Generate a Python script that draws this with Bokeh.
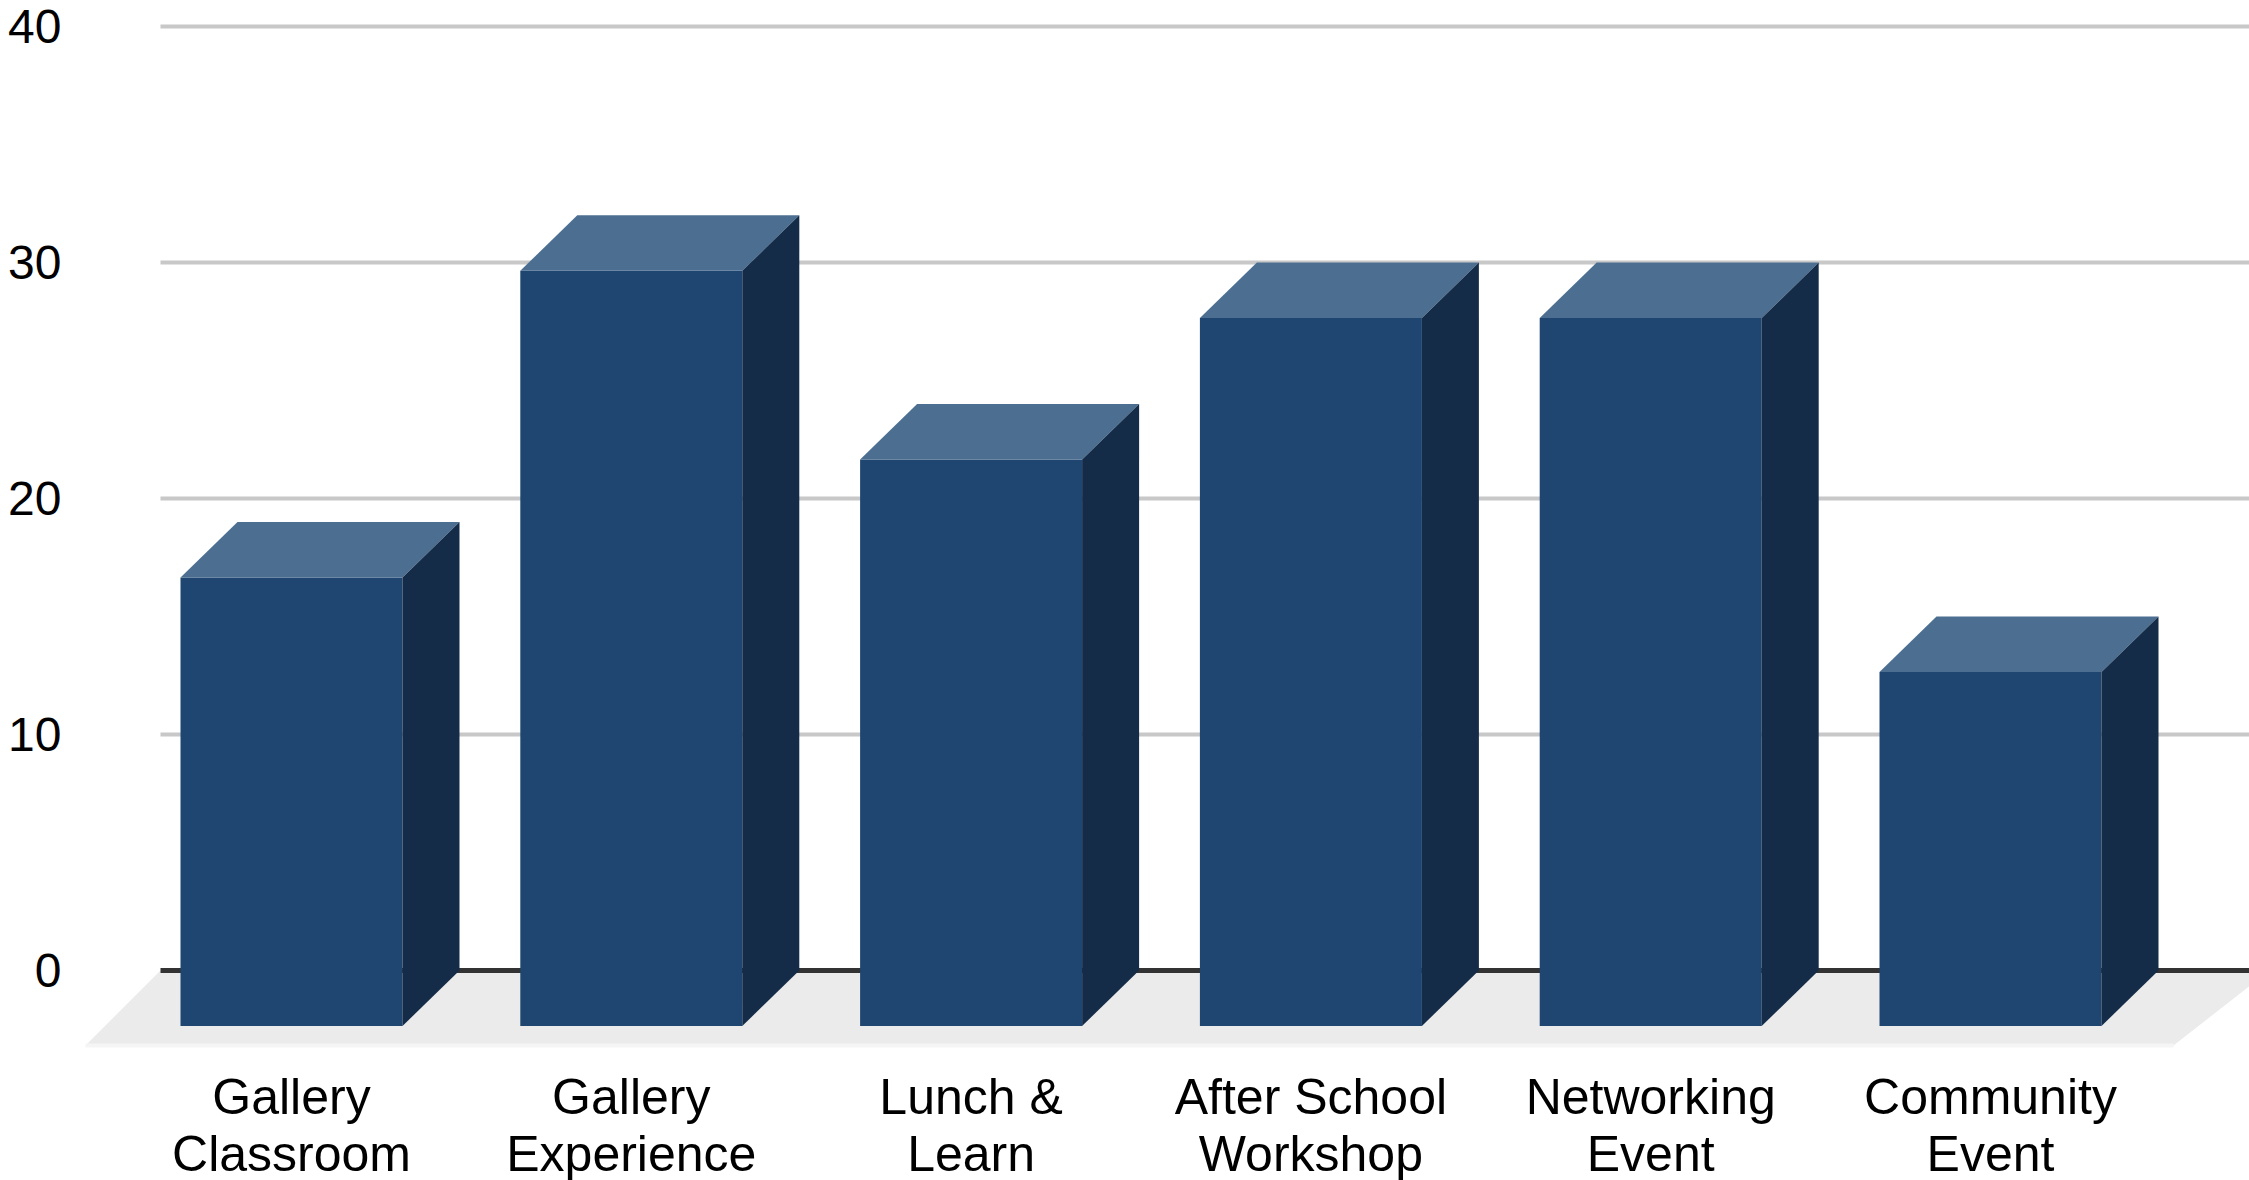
from bokeh.plotting import figure
from bokeh.models import Range1d, FixedTicker, ColumnDataSource
from bokeh.core.properties import value
from bokeh.embed import file_html
from bokeh.resources import INLINE

# ---------------- data ----------------
categories = ["Gallery\nClassroom", "Gallery\nExperience", "Lunch &\nLearn",
              "After School\nWorkshop", "Networking\nEvent", "Community\nEvent"]
values = [19, 32, 24, 30, 30, 15]
y_ticks = [0, 10, 20, 30, 40]

# ---------------- layout (pixels in reference image) ----------------
W, H = 2249, 1180
PAGE = 0
BORDER_LEFT = 78
ZERO_Y = 970.0          # reference y of value 0 on back wall
PX_PER_UNIT = 23.6
SLOT_PX = 339.8
FIRST_CENTER_X = 291.0
BAR_W_PX = 222.0
DEPTH_X_PX = 57.0
DEPTH_Y_PX = 55.5
FLOOR_BACK_LEFT = 160.0
FLOOR_FRONT_LEFT = 85.0
FLOOR_FRONT_RIGHT = 2173.0
FLOOR_DEPTH_PX = 75.0
LINE1_Y, LINE2_Y = 1096.0, 1153.0
LABEL_RIGHT = 61.0

def xd(px):
    return (px - FIRST_CENTER_X) / SLOT_PX

def yd(py):
    return (ZERO_Y - py) / PX_PER_UNIT

frame_left = PAGE + BORDER_LEFT
frame_right = PAGE + W
frame_top = PAGE
frame_bottom = PAGE + H

p = figure(width=W, height=H, output_backend="svg", toolbar_location=None,
           x_range=Range1d(xd(frame_left), xd(frame_right)),
           y_range=Range1d(yd(frame_bottom), yd(frame_top)),
           x_axis_location=None, y_axis_location="left",
           min_border_left=BORDER_LEFT, min_border_right=0,
           min_border_top=0, min_border_bottom=0)
p.outline_line_color = None
p.xgrid.visible = False
p.ygrid.visible = False
p.background_fill_color = "white"
p.border_fill_color = "white"

ax = p.yaxis[0]
ax.ticker = FixedTicker(ticks=y_ticks)
ax.axis_line_color = None
ax.major_tick_line_color = None
ax.minor_tick_line_color = None
ax.major_tick_out = 0
ax.major_tick_in = 0
ax.major_label_standoff = int(frame_left - LABEL_RIGHT)
ax.major_label_text_font = "Liberation Sans"
ax.major_label_text_font_size = "48px"
ax.major_label_text_color = "#000000"

hw = (BAR_W_PX / 2) / SLOT_PX
dx = DEPTH_X_PX / SLOT_PX
dy = DEPTH_Y_PX / PX_PER_UNIT

# floor
fdy = FLOOR_DEPTH_PX / PX_PER_UNIT
p.patch([xd(FLOOR_BACK_LEFT), xd(frame_right + 20), xd(FLOOR_FRONT_RIGHT), xd(FLOOR_FRONT_LEFT)],
        [0, 0, -fdy, -fdy], fill_color="#ebebeb", line_color=None)
p.line([xd(FLOOR_FRONT_LEFT), xd(FLOOR_FRONT_RIGHT)], [-fdy, -fdy],
       line_color="#f5f5f5", line_width=4)

# gridlines
grid_ticks = [t for t in y_ticks if t != 0]
p.segment(x0=[xd(FLOOR_BACK_LEFT)] * len(grid_ticks), y0=grid_ticks,
          x1=[xd(frame_right + 20)] * len(grid_ticks), y1=grid_ticks,
          line_color="#c8c8c8", line_width=4)
p.segment(x0=[xd(FLOOR_BACK_LEFT)], y0=[0], x1=[xd(frame_right + 20)], y1=[0],
          line_color="#333333", line_width=5)

# bars
xs = list(range(len(categories)))
front = ColumnDataSource(dict(left=[i - hw for i in xs], right=[i + hw for i in xs],
                              bottom=[-dy] * len(xs), top=[v - dy for v in values]))
p.quad(left="left", right="right", bottom="bottom", top="top", source=front,
       fill_color="#1f4670", line_color=None)

top_xs = [[i - hw, i + hw, i + hw + dx, i - hw + dx] for i in xs]
top_ys = [[v - dy, v - dy, v, v] for v in values]
p.patches(top_xs, top_ys, fill_color="#4c6f91", line_color=None)

side_xs = [[i + hw, i + hw + dx, i + hw + dx, i + hw] for i in xs]
side_ys = [[-dy, 0, v, v - dy] for v in values]
p.patches(side_xs, side_ys, fill_color="#152c49", line_color=None)

# category labels
line1 = [c.split("\n")[0] for c in categories]
line2 = [c.split("\n")[1] for c in categories]
for lines, ly in ((line1, LINE1_Y), (line2, LINE2_Y)):
    p.text(x=xs, y=[yd(ly)] * len(xs), text=lines,
           text_font=value("Liberation Sans"), text_font_size="50px",
           text_color="#000000", text_align="center", text_baseline="alphabetic")

open("out.html", "w").write(file_html(p, INLINE))
